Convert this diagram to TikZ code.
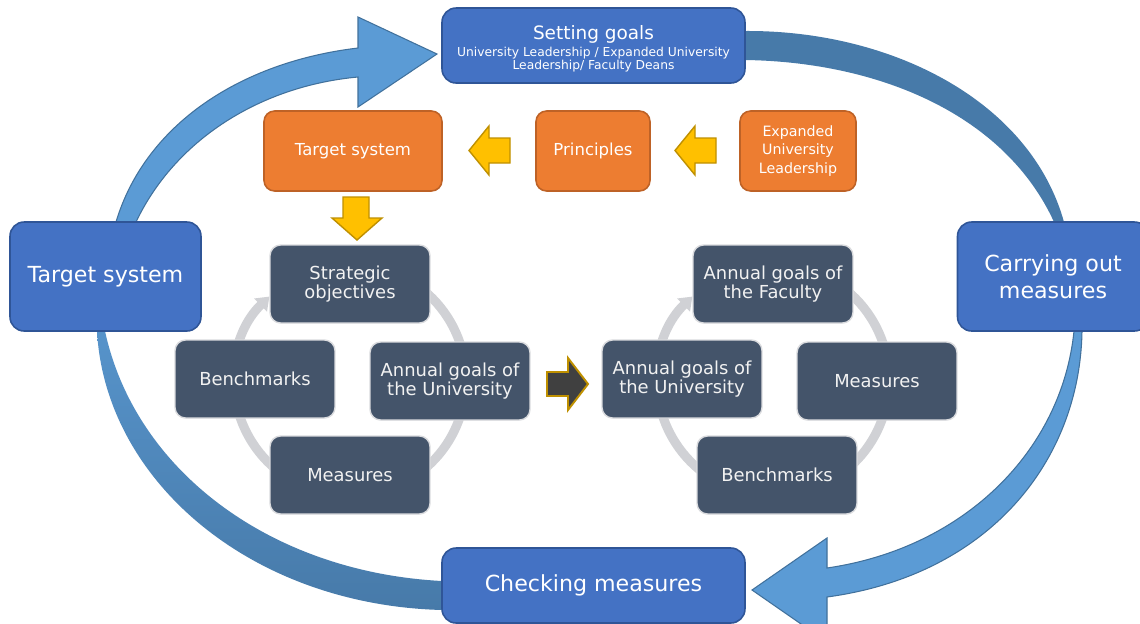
\documentclass[tikz,border=0pt]{standalone}
\usepackage{fontspec}
\setmainfont{DejaVu Sans}
\usetikzlibrary{arrows.meta}

\definecolor{boxblue}{HTML}{4472C4}
\definecolor{blueline}{HTML}{2F5597}
\definecolor{boxorange}{HTML}{ED7D31}
\definecolor{orangeline}{HTML}{BE6226}
\definecolor{slate}{HTML}{44546A}
\definecolor{slateline}{HTML}{DADBDE}
\definecolor{ringgray}{HTML}{D0D1D5}
\definecolor{yellowfill}{HTML}{FFC000}
\definecolor{yellowline}{HTML}{BF9000}
\definecolor{darkfill}{HTML}{404040}
\definecolor{arrowblue}{HTML}{5B9BD5}
\definecolor{arrowline}{HTML}{41719C}
\definecolor{arcblue}{HTML}{477AA9}

\begin{document}
\begin{tikzpicture}[x=0.02cm, y=-0.02cm, thick, auto=center]
                \tikzstyle{stage} = [draw=blueline, fill=boxblue, text=white, rounded corners=8pt, line width=0.9pt, align=center, font=\fontsize{12.6}{15.3}\selectfont]
                \tikzstyle{plan} = [draw=orangeline, fill=boxorange, text=white, rounded corners=6pt, line width=0.9pt, align=center, minimum height=1.6cm]
                \tikzstyle{item} = [draw=slateline, fill=slate, text=white!95!black, rounded corners=6pt, line width=0.8pt, align=center, minimum width=3.2cm, minimum height=1.56cm, font=\fontsize{10.2}{11.3}\selectfont]
                \tikzstyle{ring} = [draw=ringgray, line width=5.2pt]
                \tikzstyle{block} = [fill=yellowfill, draw=yellowline, line width=0.8pt]
                \tikzstyle{bigarrow} = [fill=arrowblue, draw=arrowline, line width=0.6pt]

                \path[use as bounding box, fill=white] (0,0) rectangle (1140,623);

                % Outer loop (big curved arrows)
                \draw[bigarrow] (116,222) .. controls (145,125) and (240,62) .. (358,48) -- (358,17) -- (437,54) -- (358,107) -- (358,77) .. controls (260,86) and (175,140) .. (136,222) -- cycle;
                \fill[arcblue] (745,31) .. controls (890,30) and (1030,100) .. (1064,222) -- (1054,222) .. controls (1005,115) and (880,62) .. (745,60) -- cycle;
                \draw[bigarrow] (1082,331) .. controls (1080,460) and (990,575) .. (827,597) -- (827,642) -- (752,590) -- (827,538) -- (827,568) .. controls (965,548) and (1062,450) .. (1074,331) -- cycle;
                \shade[top color=arrowblue!95!black, bottom color=arcblue] (97,331) .. controls (105,480) and (250,605) .. (442,610) -- (442,581) .. controls (270,572) and (135,470) .. (105,331) -- cycle;

                % Inner cycles (gray rings)
                \draw[ring, -{Triangle[width=10pt, length=7pt]}] (350,380) ++(240:116) arc (240:586:116);
                \draw[ring, -{Triangle[width=10pt, length=7pt]}] (773,380) ++(240:116) arc (240:586:116);

                % Stages (blue boxes)
                \node[stage, minimum width=6.06cm, minimum height=1.5cm, font=\fontsize{7}{7.4}\selectfont] (goals) at (593.5,45.5) {{\fontsize{10.5}{12}\selectfont\rule{0pt}{11.5pt}Setting goals}\\[1pt] University Leadership / Expanded University\\ Leadership/ Faculty Deans};
                \node[stage, minimum width=3.82cm, minimum height=2.18cm] (target) at (105.5,276.5) {Target system};
                \node[stage, minimum width=3.82cm, minimum height=2.18cm] (carry) at (1053,276.5) {Carrying out\\measures};
                \node[stage, minimum width=6.06cm, minimum height=1.5cm] (check) at (593.5,585.5) {Checking measures};

                % Planning (orange boxes)
                \node[plan, minimum width=3.56cm, font=\fontsize{9.4}{11}\selectfont] (tsys) at (353,151) {Target system};
                \node[plan, minimum width=2.28cm, font=\fontsize{9.4}{11}\selectfont] (princ) at (593,151) {Principles};
                \node[plan, minimum width=2.32cm, font=\fontsize{8.1}{10.4}\selectfont] (expand) at (798,151) {Expanded\\University\\Leadership};

                % University cycle (left)
                \node[item] (strat) at (350,284) {Strategic\\objectives};
                \node[item] (uniL) at (450,381) {Annual goals of\\the University};
                \node[item] (measL) at (350,475) {Measures};
                \node[item] (benchL) at (255,379) {Benchmarks};

                % Faculty cycle (right)
                \node[item] (fac) at (773,284) {Annual goals of\\the Faculty};
                \node[item] (measR) at (877,381) {Measures};
                \node[item] (benchR) at (777,475) {Benchmarks};
                \node[item] (uniR) at (682,379) {Annual goals of\\the University};

                % Block arrows
                \draw[block] (510,138) -- (489,138) -- (489,126) -- (469,150.5) -- (489,175) -- (489,163) -- (510,163) -- cycle;
                \draw[block] (716,138) -- (695,138) -- (695,126) -- (675,150.5) -- (695,175) -- (695,163) -- (716,163) -- cycle;
                \draw[block] (343,197) -- (369,197) -- (369,218) -- (382,218) -- (357,240) -- (332,218) -- (343,218) -- cycle;
                \draw[block, fill=darkfill, line width=1.1pt] (547,372) -- (568,372) -- (568,358) -- (588,384) -- (568,410) -- (568,396) -- (547,396) -- cycle;
            \end{tikzpicture}
\end{document}
